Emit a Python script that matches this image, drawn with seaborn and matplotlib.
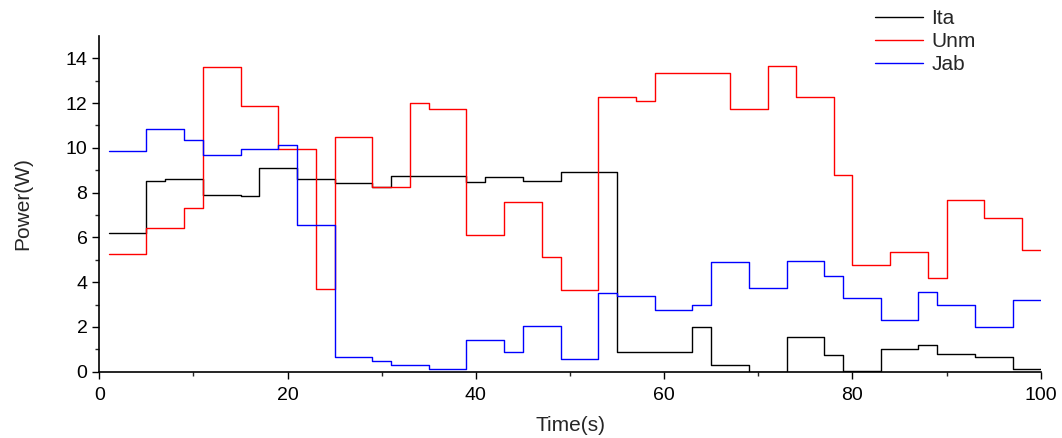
import pandas as pd
import matplotlib.pyplot as plt
import seaborn as sns

# step start times (s) and power values (W); each series ends at t=100
ita_t = [1, 5, 7, 11, 15, 17, 21, 25, 29, 31, 35, 39, 41, 45, 49, 55, 63, 65, 69, 73, 77, 79, 83, 87, 89, 93, 97]
ita_p = [6.18, 8.54, 8.62, 7.90, 7.86, 9.08, 8.61, 8.45, 8.23, 8.76, 8.73, 8.47, 8.70, 8.54, 8.90, 0.89, 2.00, 0.31, 0.0, 1.55, 0.76, 0.04, 1.00, 1.18, 0.80, 0.65, 0.13]

unm_t = [1, 5, 9, 11, 15, 19, 23, 25, 29, 33, 35, 39, 43, 47, 49, 53, 57, 59, 67, 71, 74, 78, 80, 84, 88, 90, 94, 98]
unm_p = [5.24, 6.44, 7.31, 13.59, 11.89, 9.93, 3.68, 10.49, 8.23, 12.02, 11.73, 6.10, 7.60, 5.12, 3.65, 12.26, 12.10, 13.35, 11.73, 13.66, 12.29, 8.77, 4.76, 5.36, 4.18, 7.66, 6.88, 5.42]

jab_t = [1, 5, 9, 11, 15, 19, 21, 25, 29, 31, 35, 39, 43, 45, 49, 53, 55, 59, 63, 65, 69, 73, 77, 79, 83, 87, 89, 93, 97]
jab_p = [9.85, 10.82, 10.33, 9.66, 9.93, 10.12, 6.55, 0.67, 0.46, 0.31, 0.13, 1.40, 0.86, 2.02, 0.57, 3.53, 3.38, 2.77, 2.96, 4.88, 3.73, 4.93, 4.29, 3.27, 2.31, 3.57, 3.00, 1.98, 3.21]

t_end = 100
series = {"Ita": (ita_t, ita_p), "Unm": (unm_t, unm_p), "Jab": (jab_t, jab_p)}
colors = {"Ita": "black", "Unm": "red", "Jab": "blue"}

rows = []
for name, (t, p) in series.items():
    for ti, pi in zip(t + [t_end], p + [p[-1]]):
        rows.append({"Time": ti, "Power": pi, "series": name})
df = pd.DataFrame(rows)

sns.set_style("ticks")
plt.rcParams['font.family'] = ['Liberation Sans', 'DejaVu Sans']

fig = plt.figure(figsize=(10.62, 4.38), dpi=100)
ax = fig.add_axes([0.0935, 0.1514, 0.8865, 0.7666])

sns.lineplot(data=df, x="Time", y="Power", hue="series", palette=colors,
             drawstyle="steps-post", estimator=None, sort=False, lw=1.0, ax=ax)

ax.set_xlim(0, 100)
ax.set_ylim(0, 15)
ax.set_xticks([0, 20, 40, 60, 80, 100])
ax.set_xticks(range(10, 100, 20), minor=True)
ax.set_yticks(range(0, 15, 2))
ax.set_yticks(range(1, 15, 2), minor=True)
ax.tick_params(which='major', length=5, width=1, labelsize=14, colors='black')
ax.tick_params(axis='x', which='major', pad=6)
ax.tick_params(which='minor', length=3, width=1)
for s in ['left', 'bottom']:
    ax.spines[s].set_linewidth(1.2)
    ax.spines[s].set_color('black')
sns.despine(ax=ax)
ax.set_xlabel("Time(s)", fontsize=15, labelpad=9)
ax.set_ylabel("Power(W)", fontsize=15, labelpad=24)

sns.move_legend(ax, "upper left", bbox_to_anchor=(0.815, 1.105), frameon=False,
                title=None, fontsize=15, handlelength=2.3, labelspacing=0.2,
                handletextpad=0.4, borderaxespad=0)

fig.savefig("out.png", dpi=100)
